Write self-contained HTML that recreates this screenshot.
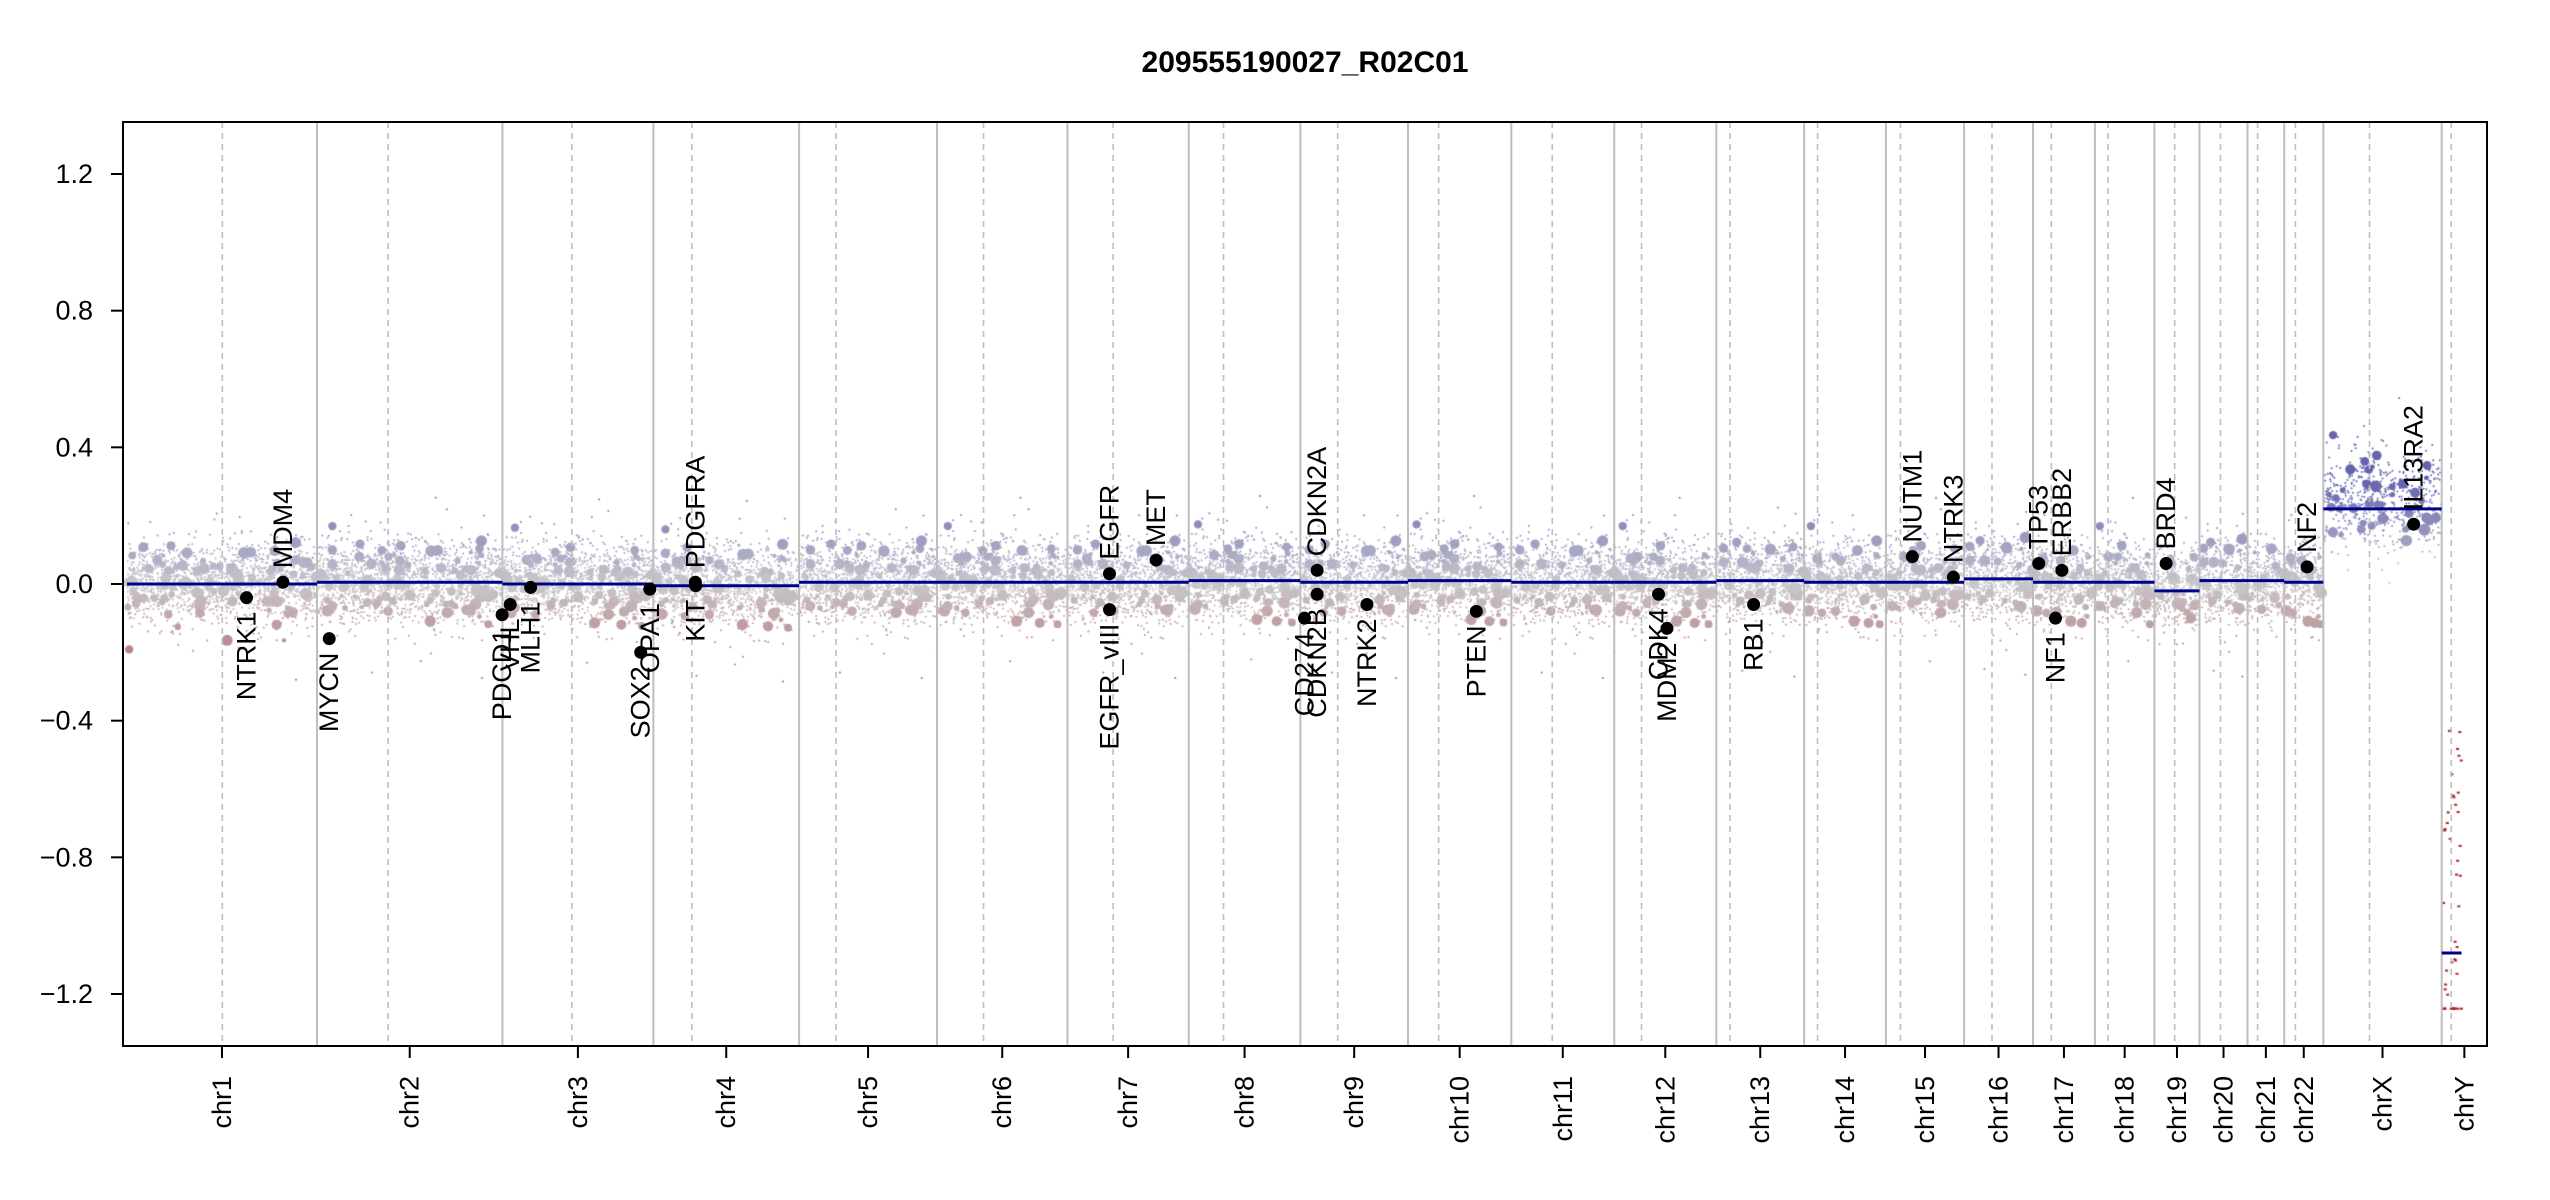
<!DOCTYPE html>
<html><head><meta charset="utf-8">
<style>
html,body{margin:0;padding:0;background:#fff;}
#wrap{position:relative;width:2550px;height:1200px;}
canvas,svg{position:absolute;left:0;top:0;}
text{font-family:"Liberation Sans",sans-serif;}
</style></head>
<body>
<div id="wrap">
<canvas id="cv" width="2550" height="1200"></canvas>
<svg id="sv" width="2550" height="1200"></svg>
</div>
<script>
const chromNames=["chr1","chr2","chr3","chr4","chr5","chr6","chr7","chr8","chr9","chr10","chr11","chr12","chr13","chr14","chr15","chr16","chr17","chr18","chr19","chr20","chr21","chr22","chrX","chrY"];
const chromLen=[249.25,243.2,198.0,191.15,180.9,171.1,159.1,146.4,141.2,135.5,135.0,133.9,115.2,107.3,102.5,90.4,81.2,78.1,59.1,63.0,48.1,51.3,155.3,59.4];
const centromere=[125,93.3,91,50.4,48.4,61,59.9,45.6,49,40.2,53.7,35.8,17.9,17.6,19,36.6,24,17.2,26.5,27.5,13.2,14.7,60.6,12.5];
const segValue=[0.0,0.005,0.0,-0.005,0.005,0.005,0.005,0.01,0.005,0.01,0.005,0.005,0.01,0.005,0.005,0.015,0.005,0.005,-0.02,0.01,0.01,0.005,0.22,-1.08];
const segEnd=[249.25,243.2,198.0,191.15,180.9,171.1,159.1,146.4,141.2,135.5,135.0,133.9,115.2,107.3,102.5,90.4,81.2,78.1,59.1,63.0,48.1,51.3,155.3,26];
const geneNames=["NTRK1","MDM4","MYCN","PDCD1","VHL","MLH1","SOX2","OPA1","KIT","PDGFRA","EGFR","EGFR_vIII","MET","CDKN2A","CDKN2B","CD274","NTRK2","PTEN","CDK4","MDM2","RB1","NUTM1","NTRK3","TP53","ERBB2","NF1","BRD4","NF2","IL13RA2"];
const geneChrom=[0,0,1,1,2,2,2,2,3,3,6,6,6,8,8,8,8,9,11,11,12,14,14,16,16,16,18,21,22];
const genePos=[156.8,204.5,16,242.8,10.2,37,181.4,193.3,55.5,55.1,55.1,55.2,116.3,21.97,22.0,5.45,87.3,89.6,58.1,69.2,48.9,34.6,88.4,7.5,37.8,29.5,15.3,30,118.5];
const geneValue=[-0.04,0.005,-0.16,-0.09,-0.06,-0.01,-0.2,-0.015,-0.005,0.005,0.03,-0.075,0.07,0.04,-0.03,-0.1,-0.06,-0.08,-0.03,-0.13,-0.06,0.08,0.02,0.06,0.04,-0.1,0.06,0.05,0.175];
const yTicks=[-1.2,-0.8,-0.4,0.0,0.4,0.8,1.2];

const L=123,R=2487,T=122,B=1046,D0=127,D1=2487;
const pxPerMb=(D1-D0)/chromLen.reduce((a,b)=>a+b,0);
const starts=[];let acc=0;for(const l of chromLen){starts.push(acc);acc+=l;}
const X=(c,mb)=>D0+(starts[c]+mb)*pxPerMb;
const Y=v=>584-v*(410/1.2);
const NS="http://www.w3.org/2000/svg";
const sv=document.getElementById('sv');
function mk(tag,attrs,parent){const e=document.createElementNS(NS,tag);for(const k in attrs)e.setAttribute(k,attrs[k]);(parent||sv).appendChild(e);return e;}

// probe cloud (decorative texture, deterministic)
let seed=12345;const rnd=()=>{seed=(seed*1103515245+12345)%2147483648;return seed/2147483648;};
const gauss=()=>{let u=rnd()||1e-9,v=rnd();return Math.sqrt(-2*Math.log(u))*Math.cos(2*Math.PI*v);};
const ctx=document.getElementById('cv').getContext('2d');
function col(v){const t=Math.max(-1,Math.min(1,v/0.3));
 const g=[200,200,205];let c;
 if(t>=0)c=[g[0]+(100-g[0])*t,g[1]+(100-g[1])*t,g[2]+(175-g[2])*t];
 else{const s=-t;c=[g[0]+(175-g[0])*s,g[1]+(95-g[1])*s,g[2]+(95-g[2])*s];}
 return `rgb(${c.map(Math.round).join(',')})`;}
chromLen.forEach((len,c)=>{
 if(c===23){for(let i=0;i<45;i++){const p=rnd()*24;const r=rnd();const v=r<0.35?-1.24:(r<0.6?-1.05-rnd()*0.15:-0.4-rnd()*0.65);ctx.fillStyle='#b22222';ctx.fillRect(X(c,p),Y(v),3,2);}return;}
 const n=Math.round(len*(c===22?4:7));const base=c===22?0.24:segValue[c];
 for(let i=0;i<n;i++){const p=rnd()*len;let v=base+gauss()*(c===22?0.07:0.055);
  if(rnd()<0.05)v+=gauss()*0.08;
  const big=rnd()<0.05;const r=big?2+rnd()*4:1;
  ctx.fillStyle=col(v);ctx.beginPath();ctx.arc(X(c,p),Y(v),r,0,6.283);ctx.fill();}
});

// vertical lines
chromLen.forEach((len,c)=>{
 if(c>0){const l=mk('line',{x1:X(c,0),x2:X(c,0),y1:T,y2:B,stroke:'#bebebe','stroke-width':2});
  
  }
 const d=mk('line',{x1:X(c,centromere[c]),x2:X(c,centromere[c]),y1:T,y2:B,stroke:'#bebebe','stroke-width':1.6,'stroke-dasharray':'6,5'});
 
 
});
// segments
chromLen.forEach((len,c)=>{
 const s=mk('line',{x1:X(c,0),x2:X(c,segEnd[c]),y1:Y(segValue[c]),y2:Y(segValue[c]),stroke:'#00008b','stroke-width':3});
 
 
});
// genes
geneNames.forEach((g,i)=>{
 const x=X(geneChrom[i],genePos[i]),y=Y(geneValue[i]);
 const dot=mk('circle',{cx:x,cy:y,r:6.5,fill:'#000'});
 
 
 const up=geneValue[i]>0;
 const tx=up?y-14:y+14;
 const t=mk('text',{x:x,y:tx,'font-size':27,'text-anchor':up?'start':'end',transform:`rotate(-90 ${x} ${tx}) translate(0 9)`});
 t.textContent=g;
 
 
});
// box
const bx=mk('rect',{x:L,y:T,width:R-L,height:B-T,fill:'none',stroke:'#000','stroke-width':2});


// y axis
yTicks.forEach(v=>{
 const y=Y(v);
 const tk=mk('line',{x1:L-12,x2:L,y1:y,y2:y,stroke:'#000','stroke-width':2});
 
 
 const t=mk('text',{x:L-30,y:y+9,'font-size':27,'text-anchor':'end'});
 t.textContent=(v<0?'\u2212':'')+Math.abs(v).toFixed(1);
 
 
});
// x axis
chromNames.forEach((n,c)=>{
 const x=X(c,chromLen[c]/2);
 const tk=mk('line',{x1:x,x2:x,y1:B,y2:B+12,stroke:'#000','stroke-width':2});
 
 
 const t=mk('text',{x:x+9,y:B+30,'font-size':27,'text-anchor':'end',transform:`rotate(-90 ${x+9} ${B+30})`});
 t.textContent=n;
 
 
});
const ti=mk('text',{x:(L+R)/2,y:72,'font-size':30,'font-weight':'bold','text-anchor':'middle'});
ti.textContent='209555190027_R02C01';


</script>
</body></html>
